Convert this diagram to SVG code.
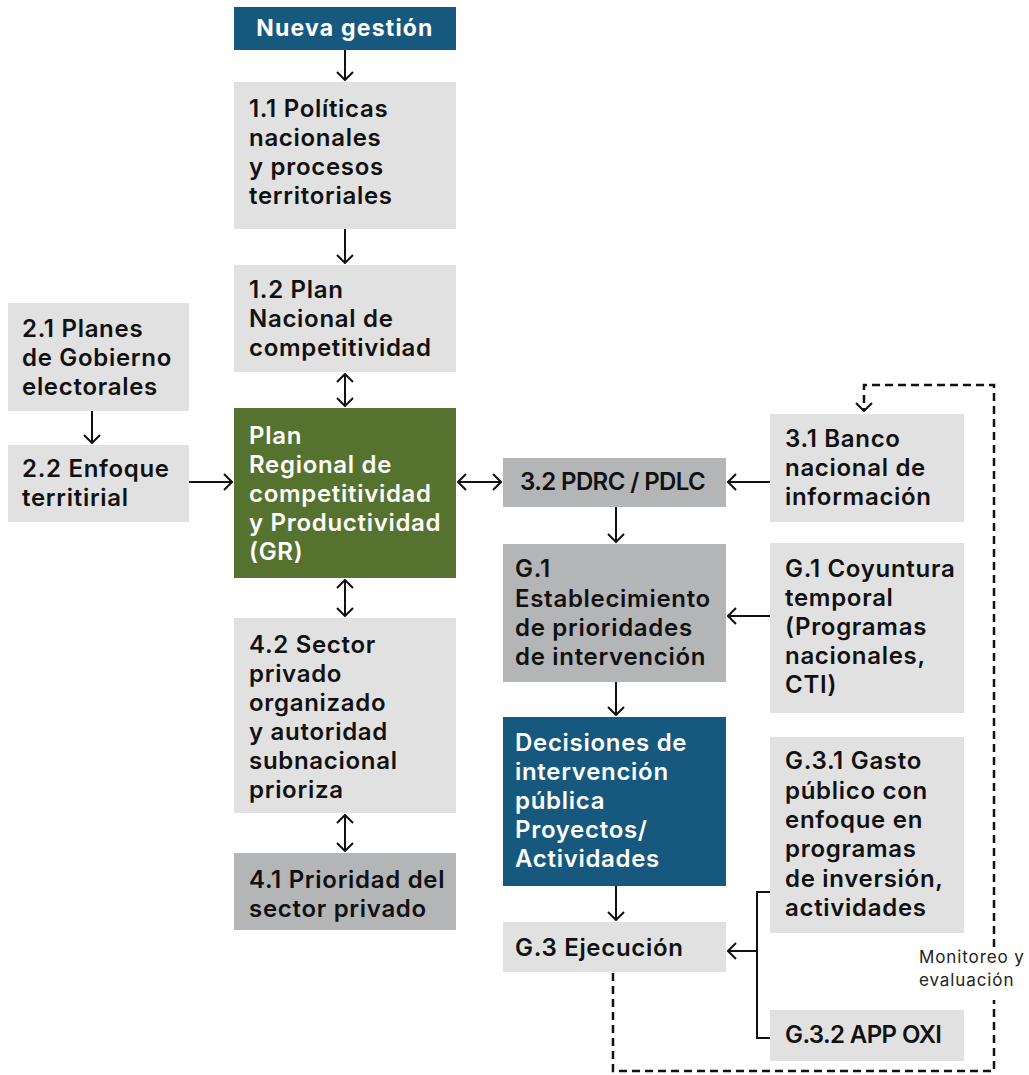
<svg xmlns="http://www.w3.org/2000/svg" width="1029" height="1075" viewBox="0 0 1029 1075">
<style>
  .lt{fill:#e1e1e1}
  .dk{fill:#b4b5b7}
  .bl{fill:#16587e}
  .gr{fill:#56722f}
  text{font-family:Inter,"Noto Sans","Liberation Sans",sans-serif;font-size:24px;font-weight:600;fill:#111;letter-spacing:0.7px}
  .w{fill:#fff}
  .title{font-weight:700;fill:#fff;font-size:23px;letter-spacing:1.2px}
  .caps{letter-spacing:-0.6px}
  .note{font-size:17px;font-weight:400;fill:#222;letter-spacing:0.9px}
  .c{fill:none;stroke:#111;stroke-width:2}
  .d{fill:none;stroke:#111;stroke-width:2.5;stroke-dasharray:8 5}
</style>
<defs>
  <marker id="ah" markerUnits="userSpaceOnUse" viewBox="0 0 10 18" markerWidth="10" markerHeight="18" refX="9" refY="9" orient="auto-start-reverse">
    <path d="M1,1 L9,9 L1,17" fill="none" stroke="#111" stroke-width="2"/>
  </marker>
</defs>
<g id="n0"><rect class="bl" x="234" y="7" width="222" height="43"/><text class="title" x="345" y="36" text-anchor="middle">Nueva gestión</text></g>
<g id="n11"><rect class="lt" x="234" y="82" width="222" height="147"/><text x="249" y="117">1.1 Políticas</text><text x="249" y="146">nacionales</text><text x="249" y="175">y procesos</text><text x="249" y="204">territoriales</text></g>
<g id="n12"><rect class="lt" x="234" y="265" width="222" height="107"/><text x="249" y="298">1.2 Plan</text><text x="249" y="327">Nacional de</text><text x="249" y="356">competitividad</text></g>
<g id="nGR"><rect class="gr" x="234" y="408" width="222" height="170"/><text class="w" x="249" y="444">Plan</text><text class="w" x="249" y="473">Regional de</text><text class="w" x="249" y="502">competitividad</text><text class="w" x="249" y="531">y Productividad</text><text class="w" x="249" y="560">(GR)</text></g>
<g id="n42"><rect class="lt" x="234" y="618" width="222" height="195"/><text x="249" y="653">4.2 Sector</text><text x="249" y="682">privado</text><text x="249" y="711">organizado</text><text x="249" y="740">y autoridad</text><text x="249" y="769">subnacional</text><text x="249" y="798">prioriza</text></g>
<g id="n41"><rect class="dk" x="234" y="853" width="222" height="77"/><text x="249" y="888">4.1 Prioridad del</text><text x="249" y="917">sector privado</text></g>
<g id="n21"><rect class="lt" x="8" y="303" width="181" height="108"/><text x="22" y="337">2.1 Planes</text><text x="22" y="366">de Gobierno</text><text x="22" y="395">electorales</text></g>
<g id="n22"><rect class="lt" x="8" y="445" width="181" height="77"/><text x="22" y="477">2.2 Enfoque</text><text x="22" y="506">territirial</text></g>
<g id="n32"><rect class="dk" x="503" y="458" width="223" height="49"/><text class="caps" x="520" y="490">3.2 PDRC / PDLC</text></g>
<g id="n31"><rect class="lt" x="770" y="414" width="194" height="108"/><text x="785" y="447">3.1 Banco</text><text x="785" y="476">nacional de</text><text x="785" y="505">información</text></g>
<g id="nG1"><rect class="dk" x="503" y="544" width="223" height="138"/><text x="515" y="577">G.1</text><text x="515" y="607">Establecimiento</text><text x="515" y="636">de prioridades</text><text x="515" y="665">de intervención</text></g>
<g id="nG1c"><rect class="lt" x="770" y="543" width="194" height="170"/><text x="785" y="577">G.1 Coyuntura</text><text x="785" y="606">temporal</text><text x="785" y="635">(Programas</text><text x="785" y="664">nacionales,</text><text x="785" y="693">CTI)</text></g>
<g id="nDec"><rect class="bl" x="503" y="717" width="223" height="169"/><text class="w" x="515" y="751">Decisiones de</text><text class="w" x="515" y="780">intervención</text><text class="w" x="515" y="809">pública</text><text class="w" x="515" y="838">Proyectos/</text><text class="w" x="515" y="867">Actividades</text></g>
<g id="nG3"><rect class="lt" x="503" y="922" width="223" height="50"/><text x="515" y="956">G.3 Ejecución</text></g>
<g id="nG31"><rect class="lt" x="770" y="737" width="194" height="196"/><text x="785" y="769">G.3.1 Gasto</text><text x="785" y="799">público con</text><text x="785" y="828">enfoque en</text><text x="785" y="857">programas</text><text x="785" y="887">de inversión,</text><text x="785" y="916">actividades</text></g>
<g id="nG32"><rect class="lt" x="770" y="1010" width="194" height="51"/><text class="caps" x="785" y="1043">G.3.2 APP OXI</text></g>
<g id="connectors">
  <path class="c" d="M345,50 V80" marker-end="url(#ah)"/>
  <path class="c" d="M345,229 V263" marker-end="url(#ah)"/>
  <path class="c" d="M345,374 V406" marker-start="url(#ah)" marker-end="url(#ah)"/>
  <path class="c" d="M345,580 V616" marker-start="url(#ah)" marker-end="url(#ah)"/>
  <path class="c" d="M345,815 V851" marker-start="url(#ah)" marker-end="url(#ah)"/>
  <path class="c" d="M92,411 V443" marker-end="url(#ah)"/>
  <path class="c" d="M189,482 H232" marker-end="url(#ah)"/>
  <path class="c" d="M458,482 H501" marker-start="url(#ah)" marker-end="url(#ah)"/>
  <path class="c" d="M770,482 H728" marker-end="url(#ah)"/>
  <path class="c" d="M616,507 V542" marker-end="url(#ah)"/>
  <path class="c" d="M770,616 H728" marker-end="url(#ah)"/>
  <path class="c" d="M616,682 V715" marker-end="url(#ah)"/>
  <path class="c" d="M616,886 V920" marker-end="url(#ah)"/>
  <path class="c" d="M770,892 H757 V1038 H770"/>
  <path class="c" d="M757,951 H728" marker-end="url(#ah)"/>
  <path class="d" d="M613,973 V1071 H994 V1000"/>
  <path class="d" d="M994,947 V385 H864 V411" marker-end="url(#ah)"/>
  <text class="note" x="919" y="963">Monitoreo y</text>
  <text class="note" x="919" y="986">evaluación</text>
</g>
</svg>
